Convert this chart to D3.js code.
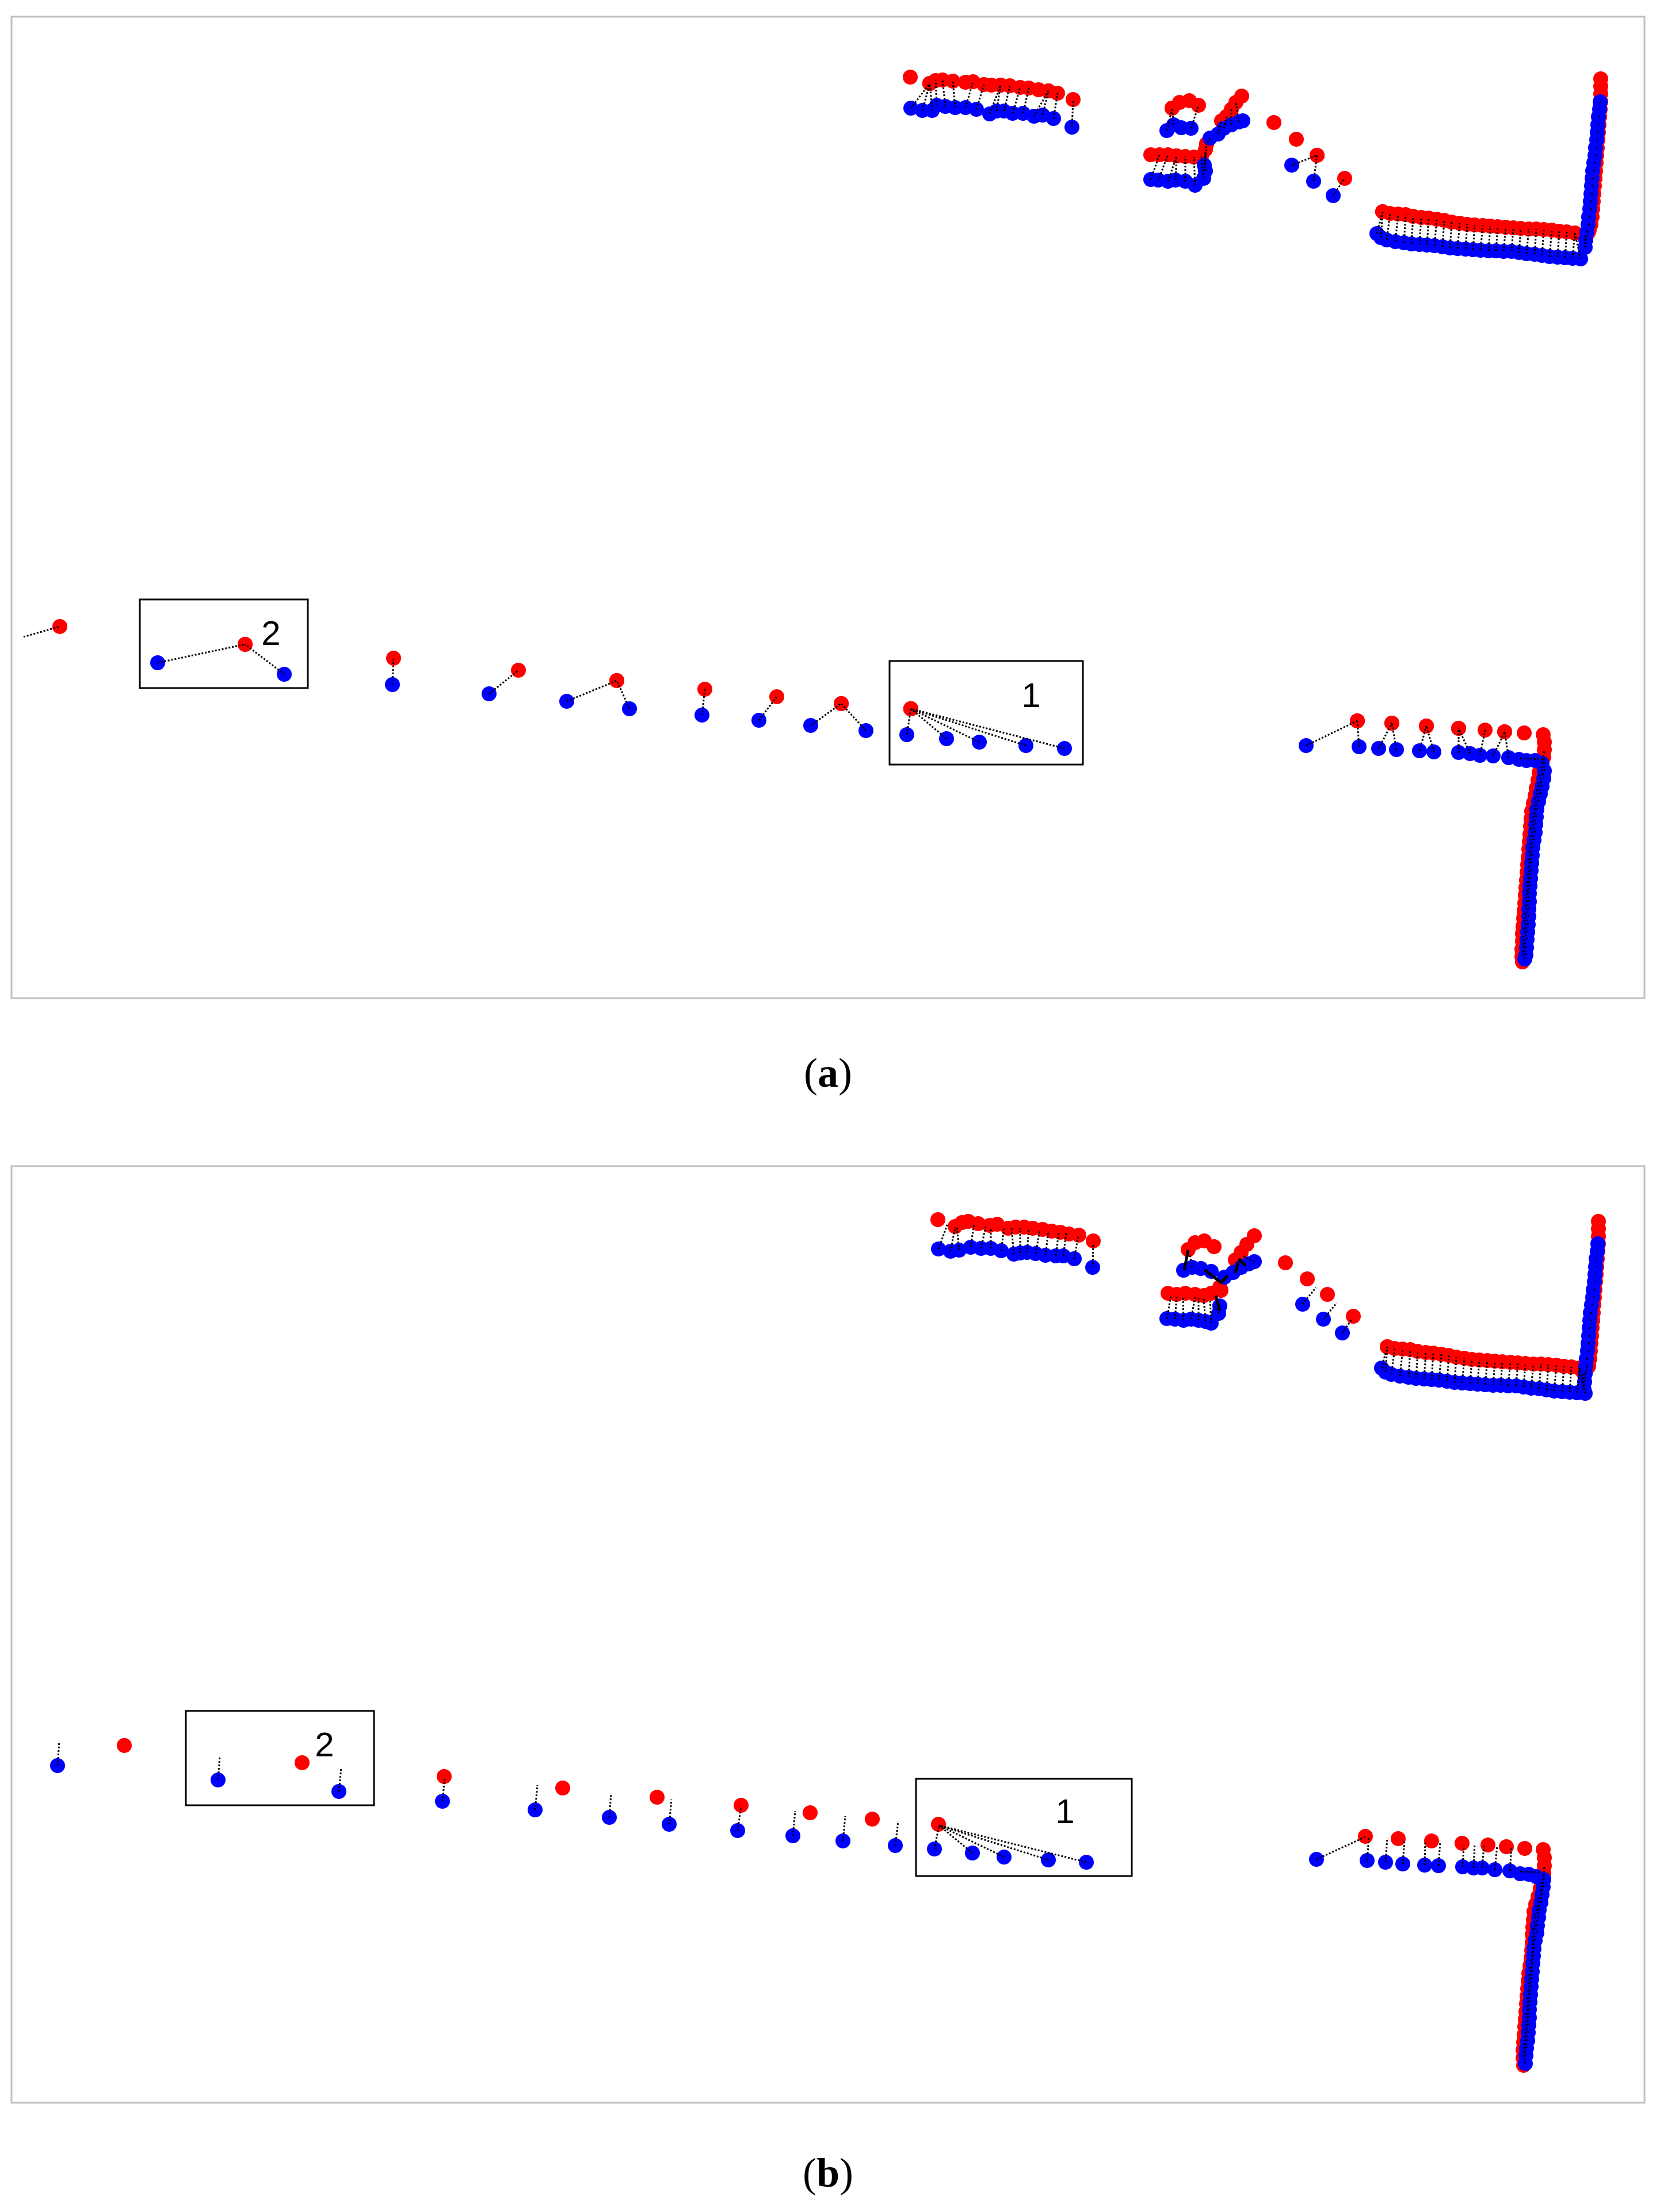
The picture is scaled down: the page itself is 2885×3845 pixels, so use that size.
<!DOCTYPE html>
<html><head><meta charset="utf-8">
<script src="https://cdn.jsdelivr.net/npm/d3@7"></script>
<style>html,body{margin:0;padding:0;background:#fff;}</style>
</head><body>
<script>
// ===== Panel (a) data (scan units, origin at panel's top-left) =====
const pairsA = [
  [1563,159,1596,116],[1583,163,1596,116],[1600,163,1596,116],[1608,154,1606,111],[1623,156,1618,110],
  [1640,158,1636,112],[1658,158,1671,113],[1677,161,1690,118],[1700,169,1719,119],[1712,164,1719,119],
  [1725,164,1735,120],[1740,168,1753,123],[1758,168,1768,124],[1777,173,1802,129],[1792,171,1802,129],
  [1811,177,1818,133],[1843,192,1845,144],
  [2008,198,2017,159],[2020,188,2017,159],[2050,194,2063,154],[2097,204,2103,181],[2107,194,2112,173],
  [2120,188,2120,161],[2133,183,2128,149],[2083,211,2077,221],[1980,283,1995,240],[1993,284,2010,240],
  [2010,286,2025,242],[2023,284,2025,242],[2040,286,2040,243],[2057,293,2055,244],[2072,281,2068,243],
  [2075,268,2075,231],[2073,258,2077,221],[2225,258,2269,241],[2263,286,2269,241],[2297,311,2317,281],
  [2373,377,2383,339],[2380,384,2383,339],[2390,388,2396,342],[2405,391,2410,343],[2420,393,2423,344],
  [2433,395,2436,347],[2447,396,2450,349],[2460,397,2463,350],[2473,398,2477,352],[2487,400,2490,354],
  [2500,402,2503,357],[2513,403,2517,359],[2527,404,2530,361],[2540,405,2543,362],[2553,406,2557,363],
  [2567,407,2570,364],[2580,407,2583,365],[2593,408,2597,366],[2607,408,2610,367],[2620,410,2623,368],
  [2633,412,2637,369],[2647,413,2650,369],[2660,415,2663,370],[2673,417,2677,371],[2687,418,2690,373],
  [2700,419,2703,374],[2713,420,2717,376],[2727,421,2717,376],
  [2761,148,2762,148],[2760,161,2761,161],[2758,174,2760,174],[2757,188,2759,188],[2756,201,2758,201],
  [2755,214,2757,214],[2753,228,2756,228],[2752,241,2755,241],[2750,254,2754,254],[2748,268,2753,268],
  [2747,281,2752,281],[2746,294,2751,294],[2745,308,2750,308],[2744,321,2749,321],[2743,334,2748,334],
  [2741,348,2747,348],[2740,361,2745,361],[2738,374,2742,371],[2736,388,2740,376],[2735,401,2735,381],
  [254,1123,406,1091],[474,1143,406,1091],
  [662,1161,664,1115],[830,1177,881,1136],[965,1190,1052,1154],[1074,1203,1052,1154],[1200,1214,1205,1169],
  [1299,1223,1330,1182],[1389,1232,1442,1194],[1485,1241,1442,1194],
  [1556,1248,1563,1203],[1625,1255,1563,1203],[1682,1261,1563,1203],[1763,1267,1563,1203],[1830,1272,1563,1203],
  [2250,1267,2339,1224],[2342,1269,2339,1224],[2376,1272,2399,1228],[2407,1274,2399,1228],[2447,1276,2459,1233],
  [2472,1278,2459,1233],[2515,1279,2515,1237],[2535,1281,2515,1237],[2552,1284,2561,1240],[2575,1285,2595,1243],
  [2602,1288,2595,1243],
  [2660,1298,2664,1274],[2664,1311,2663,1287],[2663,1324,2658,1301],[2660,1338,2655,1314],[2657,1351,2653,1327],
  [2654,1364,2650,1341],[2651,1378,2648,1354],[2650,1391,2645,1367],[2649,1404,2642,1381],[2648,1418,2641,1394],
  [2646,1431,2640,1407],[2644,1444,2639,1421],[2643,1458,2638,1434],[2642,1471,2637,1447],[2641,1484,2636,1461],
  [2640,1498,2635,1474],[2639,1511,2634,1487],[2638,1524,2633,1501],[2638,1538,2632,1514],[2637,1551,2631,1527],
  [2637,1564,2630,1541],[2636,1578,2629,1554],[2635,1591,2628,1567],[2634,1604,2627,1581],[2633,1618,2626,1594],
  [2632,1631,2626,1607],[2630,1638,2625,1621]
];
const redA = [
  [1562,105],[1658,114],[1703,119],[1785,127],
  [2030,149],[2047,146],[2138,138],[1980,240],[2194,184],[2233,213],
  [2762,108],[2762,121],[2762,134],
  [84,1060],[2629,1245],
  [2662,1248],[2664,1261],[2625,1634],[2626,1643]
];
const blueA = [[2033,193],[2140,181],[2620,1291],[2633,1293],[2648,1293]];
const tiesA = [];
const linksA = [[21,1078,84,1060],[2622,1289,2660,1291]];
const solidA = [];
const boxesA = [[223,1013,515,1167],[1526,1120,1862,1300]];
const labelsA = [["2",451,1071],["1",1772,1179]];

// ===== Panel (b) data =====
const pairsB = [
  [2381,351,2391,314],[2388,358,2391,314],[2398,362,2404,317],[2413,365,2418,318],[2428,367,2431,319],
  [2441,369,2444,322],[2455,370,2458,324],[2468,371,2471,325],[2481,372,2485,327],[2495,374,2498,329],
  [2508,376,2511,332],[2521,377,2525,334],[2535,378,2538,336],[2548,379,2551,337],[2561,380,2565,338],
  [2575,381,2578,339],[2588,381,2591,340],[2601,382,2605,341],[2615,382,2618,342],[2628,384,2631,343],
  [2641,386,2645,344],[2655,387,2658,344],[2668,389,2671,345],[2681,391,2685,346],[2695,392,2698,348],
  [2708,393,2711,349],[2721,394,2725,351],[2735,395,2725,351],
  [2757,135,2758,135],[2756,148,2757,148],[2754,161,2756,161],[2753,175,2755,175],[2752,188,2754,188],
  [2751,201,2753,201],[2749,215,2752,215],[2748,228,2751,228],[2746,241,2750,241],[2744,255,2749,255],
  [2743,268,2748,268],[2742,281,2747,281],[2741,295,2746,295],[2740,308,2745,308],[2739,321,2744,321],
  [2737,335,2743,335],[2736,348,2741,348],[2735,361,2738,351],[2734,375,2736,356],[2733,388,2731,358],
  [2663,1240,2664,1216],[2662,1253,2663,1229],[2660,1266,2659,1243],[2658,1280,2657,1256],[2655,1293,2653,1270],
  [2654,1306,2649,1283],[2652,1320,2646,1296],[2651,1333,2645,1310],[2648,1346,2644,1323],[2646,1360,2643,1336],
  [2645,1373,2643,1350],[2644,1386,2642,1363],[2643,1400,2641,1376],[2642,1413,2639,1390],[2641,1426,2637,1403],
  [2640,1440,2636,1416],[2639,1453,2635,1430],[2638,1466,2634,1443],[2638,1480,2633,1456],[2637,1493,2632,1470],
  [2636,1506,2631,1483],[2635,1520,2630,1496],[2633,1533,2629,1510],[2632,1546,2628,1523],[2631,1560,2627,1536]
];
const redB = [
  [1610,93],[1640,105],[1652,98],[1663,96],[1680,100],[1700,103],[1713,101],[1732,108],[1745,106],[1760,106],
  [1775,108],[1792,110],[1808,113],[1823,115],[1838,118],[1855,120],[1880,130],
  [2045,145],[2057,133],[2073,130],[2090,140],[2127,163],[2137,150],[2147,136],[2160,121],
  [2010,221],[2025,223],[2040,221],[2057,223],[2072,225],[2085,221],[2100,210],[2102,216],
  [2214,168],[2252,196],[2287,223],[2332,261],
  [2758,96],[2758,109],[2758,122],
  [196,1007],[505,1037],
  [752,1061],[958,1081],[1122,1097],[1268,1111],[1388,1124],[1496,1135],
  [1611,1144],
  [2353,1165],[2410,1169],[2468,1173],[2521,1177],[2566,1180],[2598,1183],[2630,1186],
  [2662,1188],[2664,1202],[2627,1550],[2628,1563]
];
const blueB = [
  [2037,181],[2067,178],[2085,183],[2108,193],[2123,185],[2137,176],[2150,170],[2100,243],
  [2622,1230],[2637,1231],[2650,1235]
];
const tiesB = [
  [1611,144,1627,100],[1632,148,1640,106],[1647,146,1643,106],[1667,141,1673,100],[1685,143,1693,105],
  [1702,143,1702,108],[1720,147,1725,108],[1742,153,1738,108],[1753,151,1753,108],[1765,150,1768,108],
  [1780,152,1787,111],[1797,155,1802,113],[1815,156,1820,115],[1828,156,1833,116],[1847,161,1854,121],
  [1879,176,1880,133],
  [2244,240,2267,211],[2280,266,2303,238],[2313,290,2330,265],
  [2008,265,2015,225],[2022,266,2025,226],[2037,268,2036,226],[2050,266,2057,228],[2063,268,2063,230],
  [2075,270,2072,231],[2085,273,2083,231],[2098,256,2088,240],
  [2052,176,2048,153],[2160,166,2140,156],
  [80,1042,83,1000],[359,1067,362,1025],[569,1087,573,1046],
  [749,1104,753,1063],[910,1119,914,1076],[1039,1132,1042,1090],[1143,1144,1147,1101],[1262,1155,1268,1113],
  [1358,1164,1362,1121],[1445,1173,1449,1130],[1536,1181,1541,1139],
  [1604,1187,1612,1146],[1670,1194,1612,1146],[1725,1201,1612,1146],[1802,1206,1612,1146],[1868,1210,1612,1146],
  [2268,1205,2353,1166],[2356,1207,2359,1166],[2388,1210,2391,1168],[2418,1213,2421,1171],[2456,1215,2457,1173],
  [2480,1216,2483,1175],[2522,1218,2524,1181],[2541,1220,2543,1178],[2556,1220,2559,1180],[2578,1223,2582,1181],
  [2604,1225,2607,1183]
];
const linksB = [[2622,1226,2657,1228]];
const solidB = [[2045,146,2038,181],[2073,180,2103,203],[2103,203,2113,190],[2093,225,2100,251],[2127,186,2132,166],[2133,161,2145,173]];
const boxesB = [[303,947,630,1111],[1572,1065,1947,1234]];
const labelsB = [["2",544,1005],["1",1831,1121]];

const captions = [["(", "a", ")"], ["(", "b", ")"]];

// ===== Layout =====
const W = 2885, H = 3845;
const panels = [
  {id:"a", pairs:pairsA, red:redA, blue:blueA, ties:tiesA, links:linksA, solid:solidA, boxes:boxesA, labels:labelsA,
   xDomain:[0,2838], yDomain:[0,1706], left:20, right:2858, top:29, bottom:1735, capY:1889, cap:captions[0]},
  {id:"b", pairs:pairsB, red:redB, blue:blueB, ties:tiesB, links:linksB, solid:solidB, boxes:boxesB, labels:labelsB,
   xDomain:[0,2838], yDomain:[0,1628], left:20, right:2858, top:2027, bottom:3655, capY:3801, cap:captions[1]}
];

const svg = d3.select("body").append("svg").attr("width", W).attr("height", H).style("display","block");
svg.append("rect").attr("width", W).attr("height", H).attr("fill", "#fff");
const defs = svg.append("defs");

const R = 13;
panels.forEach(p => {
  const x = d3.scaleLinear().domain(p.xDomain).range([p.left, p.right]);
  const y = d3.scaleLinear().domain(p.yDomain).range([p.top, p.bottom]);
  defs.append("clipPath").attr("id", "clip-" + p.id).append("rect")
    .attr("x", p.left).attr("y", p.top).attr("width", p.right - p.left).attr("height", p.bottom - p.top);
  const g = svg.append("g");
  const plot = g.append("g").attr("clip-path", `url(#clip-${p.id})`);

  const reds = p.red.concat(p.pairs.map(d => [d[2], d[3]]));
  const blues = p.blue.concat(p.pairs.map(d => [d[0], d[1]]), p.ties.map(d => [d[0], d[1]]));
  const dotted = p.links.concat(p.pairs, p.ties);

  plot.append("g").selectAll("circle").data(reds).join("circle")
    .attr("cx", d => x(d[0])).attr("cy", d => y(d[1])).attr("r", R).attr("fill", "#ff0000");
  plot.append("g").selectAll("circle").data(blues).join("circle")
    .attr("cx", d => x(d[0])).attr("cy", d => y(d[1])).attr("r", R).attr("fill", "#0000ff");
  plot.append("g").selectAll("line").data(dotted).join("line")
    .attr("x1", d => x(d[0])).attr("y1", d => y(d[1])).attr("x2", d => x(d[2])).attr("y2", d => y(d[3]))
    .attr("stroke", "#000").attr("stroke-width", 3).attr("stroke-dasharray", "3,3");
  plot.append("g").selectAll("line").data(p.solid).join("line")
    .attr("x1", d => x(d[0])).attr("y1", d => y(d[1])).attr("x2", d => x(d[2])).attr("y2", d => y(d[3]))
    .attr("stroke", "#000").attr("stroke-width", 5);

  g.append("g").selectAll("rect").data(p.boxes).join("rect")
    .attr("x", d => x(d[0])).attr("y", d => y(d[1]))
    .attr("width", d => x(d[2]) - x(d[0])).attr("height", d => y(d[3]) - y(d[1]))
    .attr("fill", "none").attr("stroke", "#000").attr("stroke-width", 3);
  g.append("g").selectAll("text").data(p.labels).join("text")
    .attr("x", d => x(d[1])).attr("y", d => y(d[2]))
    .attr("text-anchor", "middle").attr("dominant-baseline", "central")
    .attr("font-family", "'Liberation Sans', Arial, sans-serif").attr("font-size", 60).attr("fill", "#000")
    .text(d => d[0]);

  g.append("rect").attr("x", p.left).attr("y", p.top)
    .attr("width", p.right - p.left).attr("height", p.bottom - p.top)
    .attr("fill", "none").attr("stroke", "#c0c0c0").attr("stroke-width", 3);

  const cap = svg.append("text").attr("x", (p.left + p.right) / 2).attr("y", p.capY)
    .attr("text-anchor", "middle").attr("font-family", "'Liberation Serif', 'Times New Roman', serif")
    .attr("font-size", 72).attr("fill", "#000");
  cap.append("tspan").text(p.cap[0]);
  cap.append("tspan").attr("font-weight", "bold").text(p.cap[1]);
  cap.append("tspan").text(p.cap[2]);
});
</script>
</body></html>
